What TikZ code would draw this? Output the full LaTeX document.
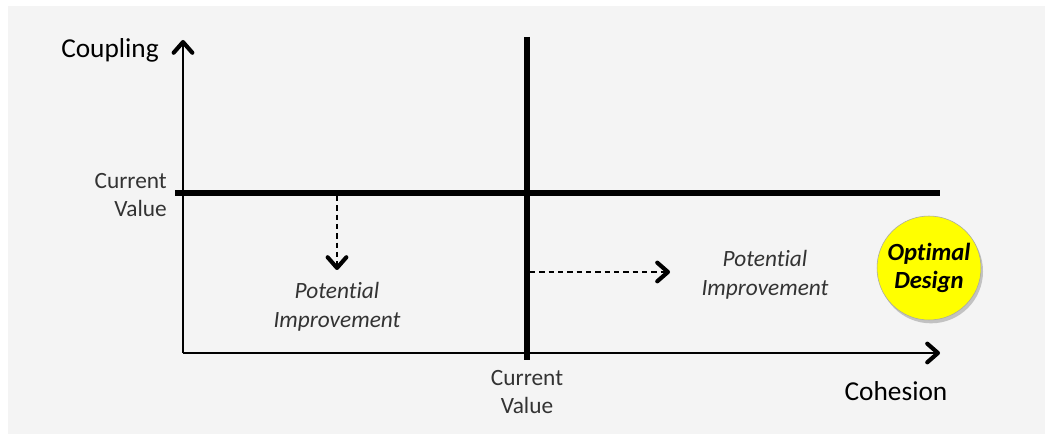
\documentclass[tikz,border=0pt]{standalone}
\usepackage{fontspec}
\setmainfont[RawFeature={-liga;-clig;-dlig;-calt}]{Carlito}
\usetikzlibrary{arrows.meta,shadows}
\definecolor{panel}{HTML}{F4F4F4}
\definecolor{lbl}{HTML}{333333}
\definecolor{optyellow}{HTML}{FFFF00}
\newcommand{\nolig}{\kern0pt{}}
\tikzset{
  chev/.tip={Straight Barb[length=8pt,width=14pt,line width=3.1pt,round]},
  axisline/.style={line width=1.3pt,-chev},
  thickline/.style={line width=3.8pt},
  dashedarrow/.style={line width=0.9pt,dash pattern=on 4pt off 3pt,-chev},
  axislabel/.style={font=\fontsize{20.5}{24}\selectfont,text=black,inner sep=0pt},
  valuelabel/.style={font=\fontsize{17.5}{21.5}\selectfont,text=lbl,inner sep=0pt},
  improvelabel/.style={font=\fontsize{17.5}{21.5}\selectfont\itshape,text=lbl,align=center,inner sep=0pt},
  optimal/.style={circle,fill=optyellow,draw=black!35,line width=0.4pt,minimum size=78pt,
    align=center,font=\fontsize{18.5}{21.5}\selectfont\bfseries\itshape,inner sep=0pt,
    drop shadow={shadow xshift=1.5pt,shadow yshift=-2.5pt,opacity=0.35,fill=black!60}}
}
\begin{document}
\begin{tikzpicture}[x=0.75pt,y=-0.75pt]
\useasboundingbox (0,0) rectangle (1045,434);
\fill[panel] (8,6) rectangle (1045,434);
% coordinates
\coordinate (O) at (183,353);
\coordinate (ytop) at (183,40);
\coordinate (xend) at (940,353);
\coordinate (hl) at (175,193);
\coordinate (hr) at (940,193);
\coordinate (vt) at (527,37);
\coordinate (vb) at (527,360);
\coordinate (d1s) at (337,196);
\coordinate (d1e) at (337,270);
\coordinate (d2s) at (530,272);
\coordinate (d2e) at (670,272);
% axes
\draw[axisline] (O) -- (ytop);
\draw[axisline] (O) -- (xend);
% current value lines
\draw[thickline] (hl) -- (hr);
\draw[thickline] (vt) -- (vb);
% dashed arrows
\draw[dashedarrow] (d1s) -- (d1e);
\draw[dashedarrow] (d2s) -- (d2e);
% labels
\node[axislabel,anchor=east] (coupling) at (159,50) {Coupling};
\node[axislabel] (cohesion) at (896,391) {Cohesion};
\node[valuelabel,align=right,anchor=east] (cvy) at (167,195) {Current\\Value};
\node[valuelabel,align=center] (cvx) at (527,392) {Current\\Value};
\node[improvelabel] (pi1) at (337,307) {Potent\nolig ial\\Improvement};
\node[improvelabel] (pi2) at (765,275) {Potent\nolig ial\\Improvement};
\node[optimal] (opt) at (929,268) {Opt\nolig imal\\Design};
\end{tikzpicture}
\end{document}
